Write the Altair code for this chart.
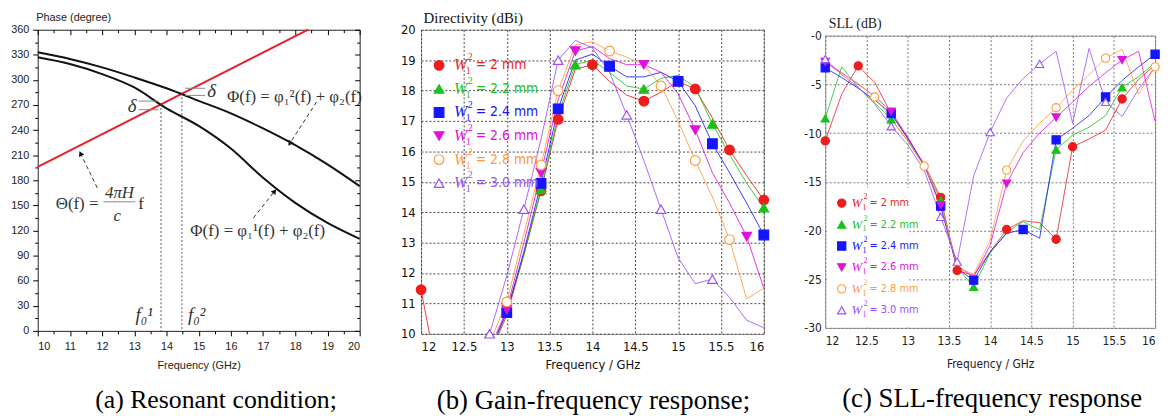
import altair as alt
import pandas as pd

SANS = "Liberation Sans, Arial, sans-serif"
NARROW = "Liberation Sans Narrow, DejaVu Sans Condensed, Liberation Sans, sans-serif"
SERIF = "Liberation Serif, Times New Roman, serif"

# ---------------- panel (a): resonant condition ----------------
freq_a = [10, 11, 12, 13, 14, 15, 16, 17, 18, 19, 20]
phi2_curve = [333, 325, 315, 303, 290, 275, 260, 242, 222, 199, 173]
phi1_curve = [327, 319, 307, 291, 266, 245, 218, 183, 153, 129, 110]
theta_freq = [10, 18.4]
theta_phase = [196, 360]
res_freq = [13.83, 14.48]
res_phase = [271, 284]
x_major_a = list(range(10, 21))
x_minor_a = [v + 0.5 for v in range(10, 20)]
y_major_a = list(range(0, 361, 30))
y_minor_a = list(range(15, 360, 30))

formula_text = ["Φ(f) = φ\u2081\u00b2(f) + φ\u2082(f)", "Φ(f) = φ\u2081\u00b9(f) + φ\u2082(f)", "Θ(f) =", "4πH", "c", "f"]
formula_freq = [15.88, 14.74, 10.56, 12.54, 12.47, 13.12]
formula_phase = [279.5, 119.6, 151.6, 165, 137.4, 152]
formula_align = ["left", "left", "left", "center", "center", "left"]
delta_text = ["δ", "δ", "f\u2080\u00b9", "f\u2080\u00b2"]
delta_freq = [12.93, 15.4, 13.31, 14.94]
delta_phase = [268.6, 287, 19, 19]
tick_seg_f1 = [13.13, 13.13, 14.58, 14.58, 12.04]
tick_seg_f2 = [13.75, 13.75, 15.2, 15.2, 13.03]
tick_seg_p = [274.7, 264.4, 290, 281.5, 154.3]
arrow_tail_f = [11.85, 18.66, 16.7]
arrow_tail_p = [171, 273.6, 135]
arrow_head_f = [11.33, 17.83, 17.36]
arrow_head_p = [212, 224, 167]
arrow_angle = [334, 212, 38]

# ---------------- panels (b), (c) ----------------
series = ["2 mm", "2.2 mm", "2.4 mm", "2.6 mm", "2.8 mm", "3.0 mm"]
series_colors = ["#ee1c1c", "#19c219", "#1515ff", "#e010e0", "#ff9a3c", "#9a4dff"]
series_fills = ["#ee1c1c", "#19c219", "#1515ff", "#e010e0", "white", "white"]
series_shapes = ["circle", "triangle-up", "square", "triangle-down", "circle", "triangle-up"]
freq_bc = [12.0, 12.2, 12.4, 12.6, 12.8, 13.0, 13.2, 13.4, 13.6, 13.8, 14.0,
           14.2, 14.4, 14.6, 14.8, 15.0, 15.2, 15.4, 15.6, 15.8, 16.0]
N = None

gain_20 = [11.45, 8.5, N, N, 9.3, 10.6, 12.6, 14.7, 17.05, 18.7, 18.85, 18.3, 17.85, 17.65, 17.95, 18.3, 18.05, 17.1, 16.05, 15.2, 14.4]
gain_22 = [N, N, N, N, 9.4, 10.75, 12.6, 14.75, 17.2, 18.85, 19.0, 18.6, 18.15, 18.05, 18.4, 18.5, 18.1, 16.9, 15.9, 14.95, 14.15]
gain_24 = [N, N, N, N, 9.4, 10.7, 12.7, 14.95, 17.4, 19.0, 19.2, 18.8, 18.45, 18.45, 18.6, 18.3, 17.5, 16.25, 15.3, 14.3, 13.25]
gain_26 = [N, N, N, N, 9.5, 10.8, 13.0, 15.3, 17.7, 19.3, 19.45, 19.05, 18.85, 18.85, 18.6, 17.9, 16.7, 15.3, 14.3, 13.2, 11.5]
gain_28 = [N, N, N, N, 9.7, 11.05, 13.3, 15.55, 18.0, 19.5, 19.6, 19.3, 19.1, 18.85, 18.15, 17.0, 15.7, 14.5, 13.1, 11.15, 11.5]
gain_30 = [N, N, N, N, 10.0, 11.9, 14.1, 16.4, 19.0, 19.65, 19.4, 18.6, 17.2, 15.7, 14.1, 12.5, 11.65, 11.8, 11.2, 10.45, 10.2]
gain_marks_20 = [12.0, 13.4, 13.6, 14.0, 14.6, 15.2, 15.6, 16.0]
gain_marks_22 = [13.4, 13.8, 14.6, 15.4, 16.0]
gain_marks_24 = [13.0, 13.4, 13.6, 14.2, 15.0, 15.4, 16.0]
gain_marks_26 = [13.0, 13.4, 13.8, 14.6, 15.2, 15.8]
gain_marks_28 = [13.0, 13.4, 13.6, 14.2, 14.8, 15.2, 15.6]
gain_marks_30 = [12.8, 13.2, 13.6, 14.4, 14.8, 15.4]

sll_20 = [-10.8, -6.0, -3.1, -4.8, -8.0, -10.6, -13.2, -16.6, -24.1, -24.6, -22.2, -19.9, -19.0, -19.2, -20.9, -11.4, -10.6, -9.7, -6.5, -4.5, -3.0]
sll_22 = [-8.5, -3.2, -5.3, -6.9, -8.6, -10.8, -13.4, -16.9, -23.8, -25.8, -22.3, -20.2, -19.1, -19.9, -11.7, -10.2, -9.4, -8.2, -5.3, -4.2, -2.8]
sll_24 = [-3.3, -4.3, -5.4, -6.6, -8.0, -10.5, -13.3, -17.5, -23.9, -25.1, -22.2, -20.3, -19.9, -20.8, -10.7, -9.5, -8.2, -6.3, -4.6, -3.2, -1.9]
sll_26 = [-2.7, -3.8, -5.0, -6.2, -7.8, -10.4, -13.3, -17.4, -23.6, -24.8, -21.5, -15.2, -12.0, -10.0, -8.4, -6.8, -5.2, -3.8, -2.5, -1.6, -8.8]
sll_28 = [-2.8, -3.9, -4.9, -6.3, -8.5, -10.8, -13.4, -17.0, -23.8, -24.5, -21.0, -13.8, -10.8, -9.0, -7.4, -5.6, -4.0, -2.3, -1.4, -6.0, -3.2]
sll_30 = [-2.4, -4.0, -5.3, -7.0, -9.3, -11.2, -13.8, -18.6, -23.2, -14.4, -9.9, -6.4, -4.4, -2.9, -1.6, -9.0, -1.3, -6.8, -8.3, -5.5, -3.2]
sll_marks_20 = [12.0, 12.4, 13.4, 13.6, 14.2, 14.8, 15.0, 15.6]
sll_marks_22 = [12.0, 12.8, 13.4, 13.8, 14.8, 15.6]
sll_marks_24 = [12.0, 12.8, 13.4, 13.8, 14.4, 14.8, 15.4, 16.0]
sll_marks_26 = [12.0, 12.8, 13.4, 14.2, 14.8, 15.6]
sll_marks_28 = [12.6, 13.2, 14.2, 14.8, 15.4, 16.0]
sll_marks_30 = [12.0, 12.8, 13.4, 13.6, 14.0, 14.6, 15.4]

captions = ["(a) Resonant condition;", "(b) Gain-frequency response;", "(c) SLL-frequency response"]


def long_table(value_lists, mark_lists):
    rows = []
    for s, vals, marks in zip(series, value_lists, mark_lists):
        for f, v in zip(freq_bc, vals):
            if v is None:
                continue
            rows.append({"s": s, "f": f, "v": v,
                         "m": any(abs(f - m) < 1e-6 for m in marks)})
    return pd.DataFrame(rows)


gain_df = long_table([gain_20, gain_22, gain_24, gain_26, gain_28, gain_30],
                     [gain_marks_20, gain_marks_22, gain_marks_24, gain_marks_26, gain_marks_28, gain_marks_30])
sll_df = long_table([sll_20, sll_22, sll_24, sll_26, sll_28, sll_30],
                    [sll_marks_20, sll_marks_22, sll_marks_24, sll_marks_26, sll_marks_28, sll_marks_30])

stroke_enc = alt.Stroke("s:N", scale=alt.Scale(domain=series, range=series_colors), legend=None)
fill_enc = alt.Fill("s:N", scale=alt.Scale(domain=series, range=series_fills), legend=None)
shape_enc = alt.Shape("s:N", scale=alt.Scale(domain=series, range=series_shapes), legend=None)
color_enc = alt.Color("s:N", scale=alt.Scale(domain=series, range=series_colors), legend=None)


def caption(text, dx, size):
    return alt.TitleParams(text, orient="bottom", anchor="middle", frame="group",
                           font=SERIF, fontSize=size, fontWeight="normal", color="#000",
                           offset=17, dx=dx)


# ================= panel (a) =================
xa = alt.Scale(domain=[10, 20], nice=False, zero=False)
ya = alt.Scale(domain=[0, 360], nice=False, zero=False)


def tick_axis(orient, values, size, inward, **kw):
    opts = dict(orient=orient, values=values, tickSize=size, domain=False,
                grid=False, tickColor="#000", tickWidth=1, labels=False, title=None)
    if inward:
        opts["offset"] = -size
    opts.update(kw)
    return alt.Axis(**opts)


lab_a = dict(labels=True, labelFont=SANS, labelFontSize=11, labelColor="#222")
ax_bottom_major = tick_axis("bottom", x_major_a, 5, False, labelPadding=5, title="Frequency (GHz)",
                            titleFont=SANS, titleFontSize=11, titleFontWeight="normal",
                            titleColor="#222", titlePadding=8, **lab_a)
ax_left_major = tick_axis("left", y_major_a, 5, False, labelPadding=4, title="Phase (degree)",
                          titleFont=SANS, titleFontSize=11, titleFontWeight="normal",
                          titleColor="#222", titleAngle=0, titleAlign="left",
                          titleBaseline="middle", titleX=-2, titleY=-12, **lab_a)
ax_bottom_minor = tick_axis("bottom", x_minor_a, 3, False)
ax_left_minor = tick_axis("left", y_minor_a, 3, False)
ax_top_major = tick_axis("top", x_major_a, 5, True)
ax_right_major = tick_axis("right", y_major_a, 5, True)
ax_top_minor = tick_axis("top", x_minor_a, 3, True)
ax_right_minor = tick_axis("right", y_minor_a, 3, True)

red_df = pd.DataFrame({"f": theta_freq, "p": theta_phase})
up_df = pd.DataFrame({"f": freq_a, "p": phi2_curve})
low_df = pd.DataFrame({"f": freq_a, "p": phi1_curve})
res_df = pd.DataFrame({"f": res_freq, "p": res_phase})
form_df = pd.DataFrame({"t": formula_text, "f": formula_freq, "p": formula_phase, "a": formula_align})
delta_df = pd.DataFrame({"t": delta_text, "f": delta_freq, "p": delta_phase})
seg_df = pd.DataFrame({"f": tick_seg_f1, "f2": tick_seg_f2, "p": tick_seg_p})
arr_df = pd.DataFrame({"f": arrow_tail_f, "p": arrow_tail_p, "f2": arrow_head_f,
                       "p2": arrow_head_p, "ang": arrow_angle})

XA = lambda ax: alt.X("f:Q", scale=xa, axis=ax)
YA = lambda ax: alt.Y("p:Q", scale=ya, axis=ax)

a_red = alt.Chart(red_df).mark_line(color="#e8202a", strokeWidth=2).encode(
    x=XA(ax_bottom_major), y=YA(ax_left_major))
a_up = alt.Chart(up_df).mark_line(color="#111", strokeWidth=2, interpolate="monotone").encode(
    x=XA(ax_bottom_minor), y=YA(ax_left_minor))
a_low = alt.Chart(low_df).mark_line(color="#111", strokeWidth=2, interpolate="monotone").encode(
    x=XA(ax_top_major), y=YA(ax_right_major))
a_res = alt.Chart(res_df).mark_rule(color="#555", strokeDash=[2, 2], strokeWidth=1).encode(
    x=XA(ax_top_minor), y=YA(ax_right_minor), y2=alt.Y2(datum=0))
a_seg = alt.Chart(seg_df).mark_rule(color="#888", strokeWidth=1).encode(
    x=XA(None), x2="f2:Q", y=YA(None))
a_arr = alt.Chart(arr_df).mark_rule(color="#333", strokeDash=[4, 3], strokeWidth=1).encode(
    x=XA(None), x2="f2:Q", y=YA(None), y2="p2:Q")
a_head = alt.Chart(arr_df).mark_point(shape="triangle-up", filled=True, color="#111", size=35, opacity=1).encode(
    x=alt.X("f2:Q", scale=xa, axis=None), y=alt.Y("p2:Q", scale=ya, axis=None), angle=alt.Angle("ang:Q", scale=None))
a_form_l = alt.Chart(form_df).transform_filter("datum.a == 'left'").mark_text(
    font=SERIF, fontSize=17, color="#333", align="left", baseline="middle").encode(
    x=XA(None), y=YA(None), text="t:N")
a_form_c = alt.Chart(form_df).transform_filter("datum.a == 'center'").mark_text(
    font=SERIF, fontSize=17, color="#333", align="center", baseline="middle", fontStyle="italic").encode(
    x=XA(None), y=YA(None), text="t:N")
a_delta = alt.Chart(delta_df).mark_text(
    font=SERIF, fontSize=19, color="#333", align="center", baseline="middle", fontStyle="italic").encode(
    x=XA(None), y=YA(None), text="t:N")

panel_a = alt.layer(a_red, a_up, a_low, a_res, a_seg, a_arr, a_head, a_form_l, a_form_c, a_delta).resolve_axis(
    x="independent", y="independent").properties(
    width=325, height=304,
    view=alt.ViewBackground(stroke="#222", strokeWidth=1),
    title=caption(captions[0], 17.5, 26))

# ================= panel (b) =================
xb = alt.Scale(domain=[12, 16], nice=False, zero=False)
yb = alt.Scale(domain=[10, 20], nice=False, zero=False)
grid_b = dict(grid=True, gridDash=[2, 2], gridColor="#444", gridWidth=1, ticks=False, domain=False)
axb_x = alt.Axis(values=[12, 12.5, 13, 13.5, 14, 14.5, 15, 15.5, 16], format="~g",
                 labelFont=NARROW, labelFontSize=13, labelColor="#111", labelPadding=7,
                 title="Frequency / GHz", titleFont=NARROW, titleFontSize=13,
                 titleFontWeight="normal", titleColor="#111", titlePadding=5, **grid_b)
axb_y = alt.Axis(values=list(range(10, 21)), labelFont=NARROW, labelFontSize=13,
                 labelColor="#111", labelPadding=6, title="Directivity (dBi)",
                 titleFont=SERIF, titleFontSize=15, titleFontWeight="normal", titleColor="#111",
                 titleAngle=0, titleAlign="left", titleBaseline="middle", titleX=2, titleY=-12,
                 **grid_b)
XB = alt.X("f:Q", scale=xb, axis=axb_x)
YB = alt.Y("v:Q", scale=yb, axis=axb_y)

b_lines = alt.Chart(gain_df).mark_line(strokeWidth=1, clip=True, opacity=0.85).encode(
    x=XB, y=YB, stroke=stroke_enc, order="f:Q")
b_pts = alt.Chart(gain_df).transform_filter("datum.m").mark_point(
    size=95, strokeWidth=1.2, opacity=1).encode(x=XB, y=YB, shape=shape_enc, fill=fill_enc, stroke=stroke_enc)

leg_b = pd.DataFrame({"s": series, "f": [12.21] * 6, "v": [18.83 - 0.775 * i for i in range(6)]})
b_lpts = alt.Chart(leg_b).mark_point(size=95, strokeWidth=1.2, opacity=1).encode(
    x=XB, y=YB, shape=shape_enc, fill=fill_enc, stroke=stroke_enc)
b_lw = alt.Chart(leg_b).mark_text(text="W", font=SERIF, fontStyle="italic", fontSize=16,
                                  align="left", baseline="middle", dx=15).encode(x=XB, y=YB, color=color_enc)
b_l1 = alt.Chart(leg_b).mark_text(text="1", font=SERIF, fontSize=10, align="left",
                                  baseline="middle", dx=27, dy=6).encode(x=XB, y=YB, color=color_enc)
b_l2 = alt.Chart(leg_b).mark_text(text="2", font=SERIF, fontSize=10, align="left",
                                  baseline="middle", dx=29, dy=-8).encode(x=XB, y=YB, color=color_enc)
b_lt = alt.Chart(leg_b).transform_calculate(lab="'= ' + datum.s").mark_text(
    font=NARROW, fontSize=14, align="left", baseline="middle", dx=37).encode(
    x=XB, y=YB, color=color_enc, text="lab:N")

panel_b = alt.layer(b_lines, b_pts, b_lpts, b_lw, b_l1, b_l2, b_lt).properties(
    width=346, height=307,
    view=alt.ViewBackground(stroke="#999", strokeWidth=1),
    title=caption(captions[1], 1, 27))

# ================= panel (c) =================
xc = alt.Scale(domain=[12, 16], nice=False, zero=False)
yc = alt.Scale(domain=[-30, 0], nice=False, zero=False)
grid_c = dict(grid=True, gridDash=[2, 2], gridColor="#777", gridWidth=1, ticks=False, domain=False)
axc_x = alt.Axis(values=[12, 12.5, 13, 13.5, 14, 14.5, 15, 15.5, 16], format="~g",
                 labelFont=NARROW, labelFontSize=12, labelColor="#222", labelPadding=8,
                 title="Frequency / GHz", titleFont=NARROW, titleFontSize=12,
                 titleFontWeight="normal", titleColor="#222", titlePadding=12, **grid_c)
axc_y = alt.Axis(values=[-30, -25, -20, -15, -10, -5, 0], labelExpr="'-' + abs(datum.value)",
                 labelFont=NARROW, labelFontSize=12, labelColor="#222", labelPadding=4,
                 title="SLL (dB)", titleFont=SERIF, titleFontSize=14, titleFontWeight="normal",
                 titleColor="#222", titleAngle=0, titleAlign="left", titleBaseline="middle",
                 titleX=3, titleY=-12, **grid_c)
XC = alt.X("f:Q", scale=xc, axis=axc_x)
YC = alt.Y("v:Q", scale=yc, axis=axc_y)

leg_box = pd.DataFrame({"f": [12.02], "f2": [13.02], "v": [-15.6], "v2": [-29.9]})
c_box = alt.Chart(leg_box).mark_rect(color="white").encode(x=XC, x2="f2:Q", y=YC, y2="v2:Q")
c_lines = alt.Chart(sll_df).mark_line(strokeWidth=1, clip=True, opacity=0.8).encode(
    x=XC, y=YC, stroke=stroke_enc, order="f:Q")
c_pts = alt.Chart(sll_df).transform_filter("datum.m").mark_point(
    size=70, strokeWidth=1.1, opacity=1).encode(x=XC, y=YC, shape=shape_enc, fill=fill_enc, stroke=stroke_enc)

leg_c = pd.DataFrame({"s": series, "f": [12.2] * 6, "v": [-17.19 - 2.2 * i for i in range(6)]})
c_lpts = alt.Chart(leg_c).mark_point(size=70, strokeWidth=1.1, opacity=1).encode(
    x=XC, y=YC, shape=shape_enc, fill=fill_enc, stroke=stroke_enc)
c_lw = alt.Chart(leg_c).mark_text(text="W", font=SERIF, fontStyle="italic", fontSize=13,
                                  align="left", baseline="middle", dx=10).encode(x=XC, y=YC, color=color_enc)
c_l1 = alt.Chart(leg_c).mark_text(text="1", font=SERIF, fontSize=8, align="left",
                                  baseline="middle", dx=21, dy=5).encode(x=XC, y=YC, color=color_enc)
c_l2 = alt.Chart(leg_c).mark_text(text="2", font=SERIF, fontSize=8, align="left",
                                  baseline="middle", dx=22, dy=-6).encode(x=XC, y=YC, color=color_enc)
c_lt = alt.Chart(leg_c).transform_calculate(lab="'= ' + datum.s").mark_text(
    font=NARROW, fontSize=11, align="left", baseline="middle", dx=28).encode(
    x=XC, y=YC, color=color_enc, text="lab:N")

panel_c = alt.layer(c_box, c_lines, c_pts, c_lpts, c_lw, c_l1, c_l2, c_lt).properties(
    width=333, height=295,
    view=alt.ViewBackground(stroke="#999", strokeWidth=1),
    title=caption(captions[2], 2, 27))

spacer = alt.Chart(pd.DataFrame({"z": [0]})).mark_point(opacity=0).properties(
    width=333, height=1, view=alt.ViewBackground(stroke="transparent"))
col_c = alt.vconcat(spacer, panel_c, spacing=5, bounds="flush")

chart = alt.hconcat(panel_a, panel_b, col_c, spacing=62, bounds="flush").configure(
    padding={"left": 2, "top": 0, "right": 2, "bottom": 0}, background="white")

chart.save("out.html", embed_options={"renderer": "svg", "actions": False})
